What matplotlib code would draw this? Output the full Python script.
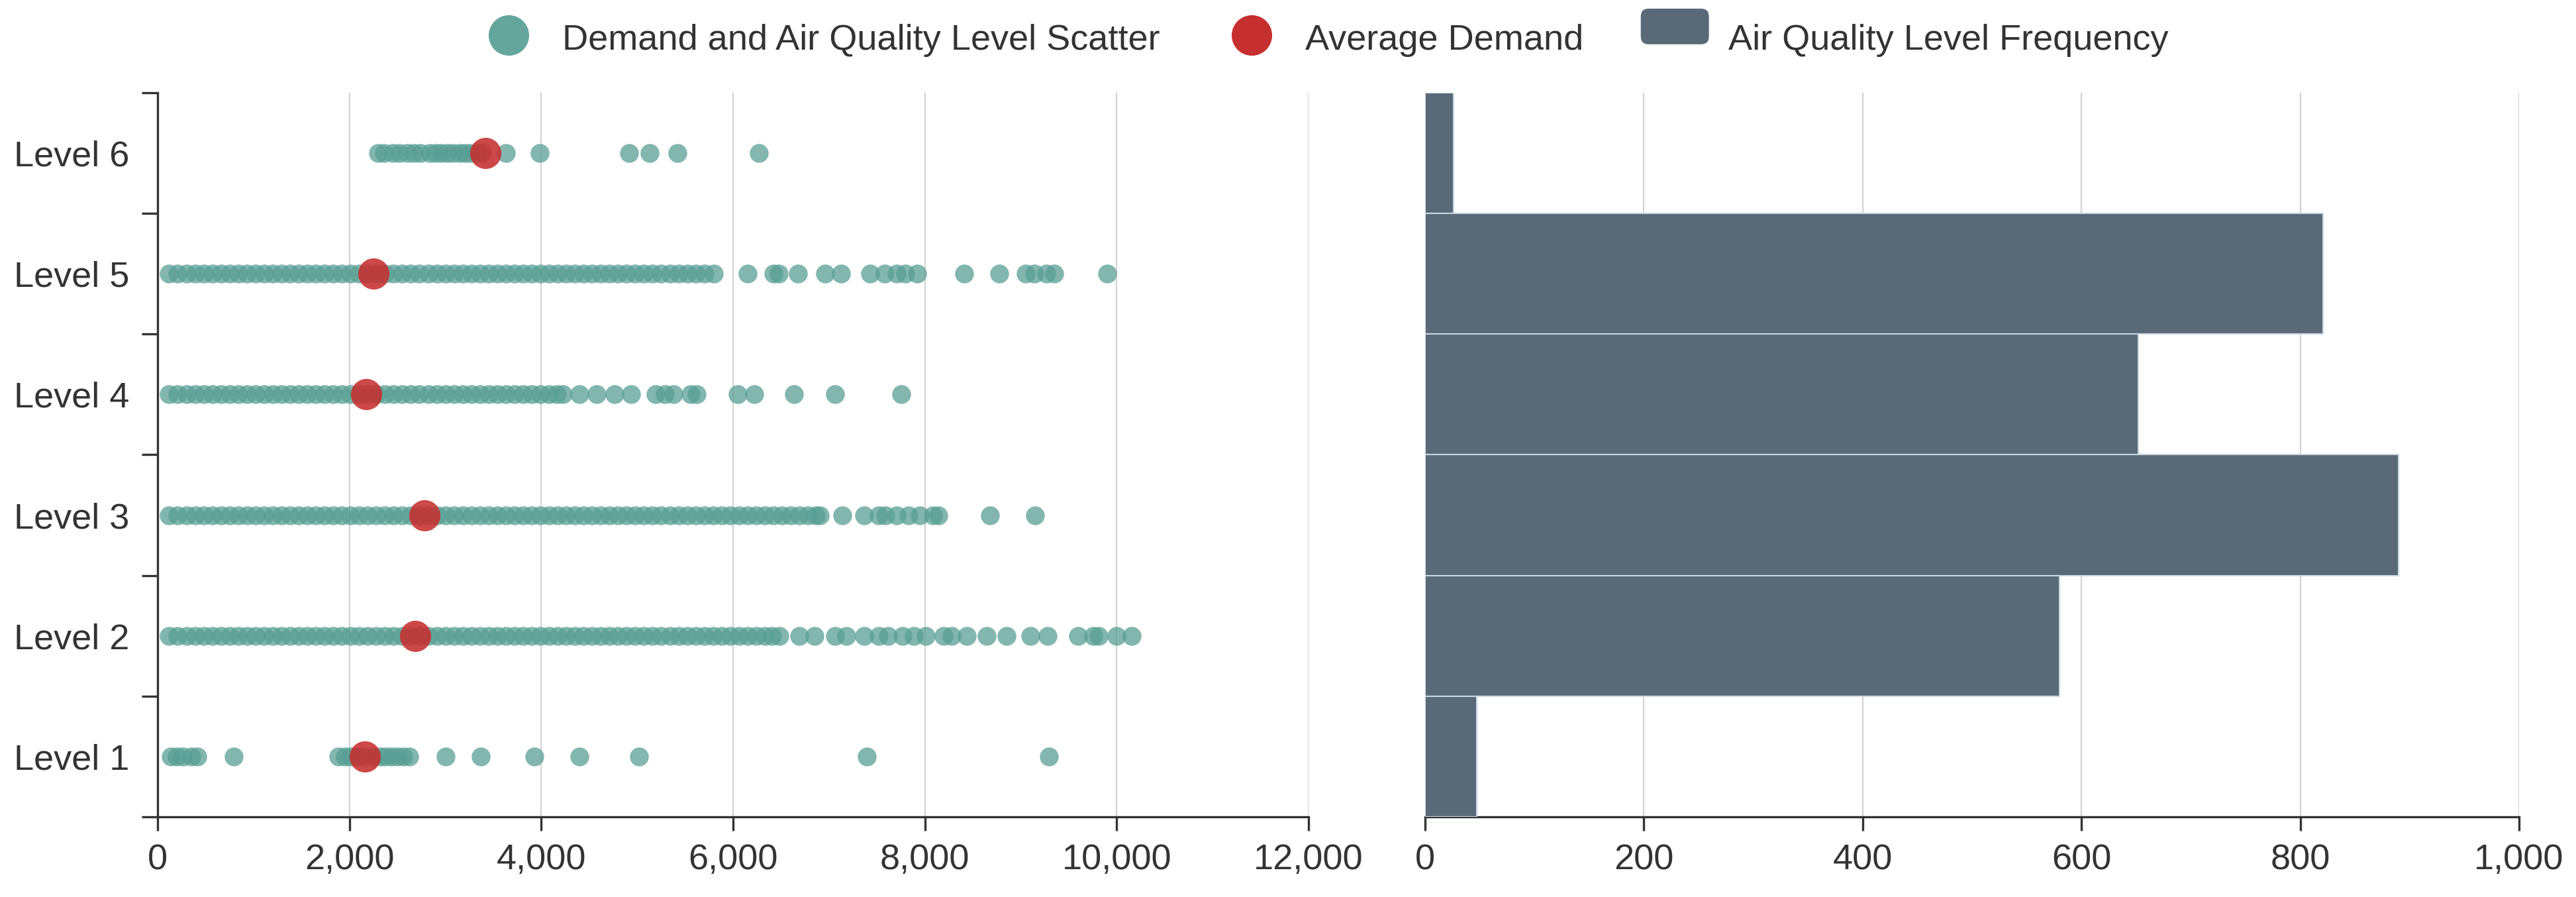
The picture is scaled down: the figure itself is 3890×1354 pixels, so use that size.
import matplotlib.pyplot as plt
from matplotlib.lines import Line2D
from matplotlib.patches import Patch, FancyBboxPatch
from matplotlib.ticker import FuncFormatter

plt.rcParams['font.family'] = ['Liberation Sans', 'DejaVu Sans']

# datos
levels = [1, 2, 3, 4, 5, 6]
level_labels = ['Level 1', 'Level 2', 'Level 3', 'Level 4', 'Level 5', 'Level 6']

demand_l1 = [141, 200, 263, 355, 416, 796, 1886, 1950, 2008, 2080, 2150, 2253, 2320,
             2376, 2440, 2498, 2560, 2621, 3000, 3368, 3925, 4397, 5021, 7394, 9291]

demand_l2 = [120, 210, 300, 390, 480, 570, 660, 750, 840, 930, 1020, 1110, 1200, 1290,
             1380, 1470, 1560, 1650, 1740, 1830, 1920, 2010, 2100, 2190, 2280, 2370,
             2460, 2550, 2640, 2730, 2820, 2910, 3000, 3090, 3180, 3270, 3360, 3450,
             3540, 3630, 3720, 3810, 3900, 3990, 4080, 4170, 4260, 4350, 4440, 4530,
             4620, 4710, 4800, 4890, 4980, 5070, 5160, 5250, 5340, 5430, 5520, 5610,
             5700, 5790, 5880, 5970, 6060, 6150, 6240, 6330, 6410, 6480,
             6693, 6846, 7061, 7183, 7367, 7520, 7612, 7765, 7887, 8010, 8193, 8277,
             8436, 8647, 8854, 9097, 9277, 9595, 9755, 9810, 9997, 10156]

demand_l3 = [120, 210, 300, 390, 480, 570, 660, 750, 840, 930, 1020, 1110, 1200, 1290,
             1380, 1470, 1560, 1650, 1740, 1830, 1920, 2010, 2100, 2190, 2280, 2370,
             2460, 2550, 2640, 2730, 2820, 2910, 3000, 3090, 3180, 3270, 3360, 3450,
             3540, 3630, 3720, 3810, 3900, 3990, 4080, 4170, 4260, 4350, 4440, 4530,
             4620, 4710, 4800, 4890, 4980, 5070, 5160, 5250, 5340, 5430, 5520, 5610,
             5700, 5790, 5880, 5970, 6060, 6150, 6240, 6330, 6420, 6510, 6600, 6690,
             6780, 6860, 6907,
             7140, 7367, 7520, 7590, 7704, 7826, 7948, 8083, 8142, 8680, 9150]

demand_l4 = [120, 210, 300, 390, 480, 570, 660, 750, 840, 930, 1020, 1110, 1200, 1290,
             1380, 1470, 1560, 1650, 1740, 1830, 1920, 2010, 2100, 2190, 2280, 2370,
             2460, 2550, 2640, 2730, 2820, 2910, 3000, 3090, 3180, 3270, 3360, 3450,
             3540, 3630, 3720, 3810, 3900, 3990, 4080, 4160, 4225,
             4397, 4580, 4764, 4936, 5193, 5285, 5377, 5560, 5621, 6050, 6222, 6632,
             7061, 7753]

demand_l5 = [120, 210, 300, 390, 480, 570, 660, 750, 840, 930, 1020, 1110, 1200, 1290,
             1380, 1470, 1560, 1650, 1740, 1830, 1920, 2010, 2100, 2190, 2280, 2370,
             2460, 2550, 2640, 2730, 2820, 2910, 3000, 3090, 3180, 3270, 3360, 3450,
             3540, 3630, 3720, 3810, 3900, 3990, 4080, 4170, 4260, 4350, 4440, 4530,
             4620, 4710, 4800, 4890, 4980, 5070, 5160, 5250, 5340, 5430, 5520, 5610,
             5700, 5800,
             6154, 6418, 6479, 6675, 6957, 7122, 7428, 7581, 7703, 7795, 7918, 8408,
             8775, 9051, 9143, 9265, 9350, 9900]

demand_l6 = [2300, 2360, 2450, 2520, 2600, 2670, 2740, 2835, 2900, 2958, 3020, 3080,
             3150, 3203, 3260, 3325, 3380, 3631, 3980, 4917, 5132, 5419, 6270]

avg_demand = [2162, 2682, 2780, 2174, 2253, 3417]
level_counts = [47, 580, 890, 652, 821, 26]

scatter_color = '#589e94'
avg_color = '#c62f2f'
bar_color = '#5a6977'
text_color = '#333333'


class RoundBoxHandler:
    # caja redondeada para la leyenda de las barras
    def legend_artist(self, legend, orig_handle, fontsize, handlebox):
        x0, y0 = handlebox.xdescent, handlebox.ydescent
        w, h = handlebox.width, handlebox.height
        box = FancyBboxPatch((x0 - w * 0.5 + w * 0.5, y0), w, h,
                             boxstyle=f'round,pad=0,rounding_size={h * 0.22}',
                             facecolor=orig_handle.get_facecolor(), edgecolor='none',
                             transform=handlebox.get_transform())
        handlebox.add_artist(box)
        return box


fig = plt.figure(figsize=(38.9, 13.54), dpi=100)
ax1 = fig.add_axes([0.0612, 0.0894, 0.4468, 0.8072])
ax2 = fig.add_axes([0.5532, 0.0894, 0.4247, 0.8072])

# scatter izquierdo
all_demand = [demand_l1, demand_l2, demand_l3, demand_l4, demand_l5, demand_l6]
for lvl, vals in zip(levels, all_demand):
    ax1.scatter(vals, [lvl] * len(vals), s=420, color=scatter_color, alpha=0.75,
                linewidths=0, zorder=3)
ax1.scatter(avg_demand, levels, s=1150, color=avg_color, alpha=0.88, linewidths=0, zorder=4)

ax1.set_xlim(0, 12000)
ax1.set_ylim(0.5, 6.5)
ax1.set_xticks(range(0, 12001, 2000))
ax1.xaxis.set_major_formatter(FuncFormatter(lambda v, p: f'{int(v):,}'))
ax1.set_yticks([0.5, 1.5, 2.5, 3.5, 4.5, 5.5, 6.5])
ax1.set_yticklabels([])
ax1.set_yticks(levels, labels=level_labels, minor=True)
ax1.tick_params(axis='y', which='minor', length=0, pad=31, labelsize=39, labelcolor=text_color)
ax1.tick_params(axis='y', which='major', length=17, width=2.4, color=text_color)
ax1.grid(axis='x', color='#d4d4d4', linewidth=1.6, zorder=0)
ax1.set_axisbelow(True)
for side in ['top', 'right']:
    ax1.spines[side].set_visible(False)

# barras derecha
ax2.barh(levels, level_counts, height=1.0, color=bar_color, edgecolor='#c9d7e3',
         linewidth=1.5, zorder=3)
ax2.set_xlim(0, 1000)
ax2.set_ylim(0.5, 6.5)
ax2.set_xticks(range(0, 1001, 200))
ax2.xaxis.set_major_formatter(FuncFormatter(lambda v, p: f'{int(v):,}'))
ax2.set_yticks([])
ax2.grid(axis='x', color='#d4d4d4', linewidth=1.6, zorder=0)
ax2.set_axisbelow(True)
for side in ['top', 'right', 'left']:
    ax2.spines[side].set_visible(False)

for ax in [ax1, ax2]:
    ax.spines['bottom'].set_linewidth(2.4)
    ax.spines['bottom'].set_color(text_color)
    ax.spines['left'].set_linewidth(2.4)
    ax.spines['left'].set_color(text_color)
    ax.tick_params(axis='x', length=15, width=2.4, color=text_color, pad=14,
                   labelsize=39, labelcolor=text_color)

# leyenda
bar_handle = Patch(facecolor=bar_color, edgecolor='none')
handles = [
    Line2D([], [], marker='o', linestyle='none', markersize=44,
           markerfacecolor='#64a69c', markeredgewidth=0),
    Line2D([], [], marker='o', linestyle='none', markersize=44,
           markerfacecolor=avg_color, markeredgewidth=0),
    bar_handle,
]
legend_labels = ['Demand and Air Quality Level Scatter', 'Average Demand',
                 'Air Quality Level Frequency']
fig.legend(handles, legend_labels, loc='center', bbox_to_anchor=(0.513, 0.957), ncol=3,
           frameon=False, fontsize=39, handlelength=1.9, handleheight=1.15,
           handletextpad=0.55, columnspacing=1.6, labelcolor=text_color,
           handler_map={bar_handle: RoundBoxHandler()})

plt.savefig('out.png', dpi=100)
